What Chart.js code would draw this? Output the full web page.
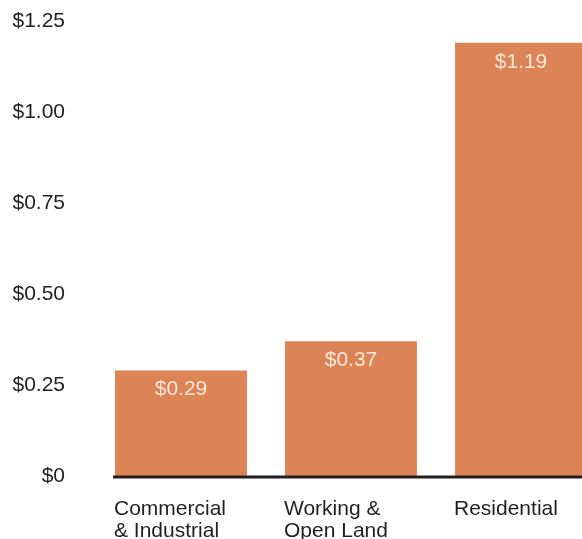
<!DOCTYPE html>
<html>
<head>
<meta charset="utf-8">
<script src="https://cdn.jsdelivr.net/npm/chart.js@4.4.1/dist/chart.umd.min.js"></script>
<style>
  html, body { margin: 0; padding: 0; background: #fff; overflow: hidden; }
  #wrap { width: 606px; height: 539px; }
</style>
</head>
<body>
<div id="wrap"><canvas id="costChart"></canvas></div>
<script>
const categories = [['Commercial', '& Industrial'], ['Working &', 'Open Land'], ['Residential']];
const costValues = [0.29, 0.37, 1.19];
const valueLabels = ['$0.29', '$0.37', '$1.19'];
const yTickLabels = ['$0', '$0.25', '$0.50', '$0.75', '$1.00', '$1.25'];

const textFont = { family: '"Liberation Sans", Arial, sans-serif', size: 21 };

// baseline + value labels inside the bars
const barExtras = {
  id: 'barExtras',
  afterDatasetsDraw(chart) {
    const ctx = chart.ctx;
    const bars = chart.getDatasetMeta(0).data;
    const y0 = chart.scales.y.getPixelForValue(0);
    ctx.save();
    ctx.strokeStyle = '#231f20';
    ctx.lineWidth = 3;
    ctx.beginPath();
    ctx.moveTo(bars[0].x - bars[0].width / 2 - 2, y0 + 1);
    ctx.lineTo(chart.chartArea.right, y0 + 1);
    ctx.stroke();

    ctx.fillStyle = '#fbe6d8';
    ctx.font = textFont.size + 'px ' + textFont.family;
    ctx.textAlign = 'center';
    ctx.textBaseline = 'middle';
    bars.forEach((bar, i) => {
      ctx.fillText(valueLabels[i], bar.x, bar.y + 19);
    });
    ctx.restore();
  }
};

new Chart(document.getElementById('costChart'), {
  type: 'bar',
  data: {
    labels: categories,
    datasets: [{
      data: costValues,
      backgroundColor: '#dc8456',
      borderWidth: 0,
      barPercentage: 0.776,
      categoryPercentage: 1
    }]
  },
  options: {
    responsive: true,
    maintainAspectRatio: false,
    animation: false,
    layout: { padding: { top: 21, right: 0, left: 0, bottom: 0 } },
    plugins: { legend: { display: false }, tooltip: { enabled: false } },
    scales: {
      x: {
        grid: { display: false },
        border: { display: false },
        afterFit(scale) {
          scale.height = 63;
          scale.paddingLeft = 0;
          scale.paddingRight = 0;
        },
        ticks: {
          color: '#231f20',
          font: { ...textFont, lineHeight: 1.05 },
          align: 'start',
          labelOffset: -67,
          padding: 14,
          maxRotation: 0
        }
      },
      y: {
        min: 0,
        max: 1.25,
        grid: { display: false },
        border: { display: false },
        afterFit(scale) {
          scale.width = 96;
          scale.paddingTop = 0;
          scale.paddingBottom = 0;
        },
        ticks: {
          stepSize: 0.25,
          color: '#231f20',
          font: textFont,
          padding: 23,
          callback: (v, i) => yTickLabels[i]
        }
      }
    }
  },
  plugins: [barExtras]
});
</script>
</body>
</html>
